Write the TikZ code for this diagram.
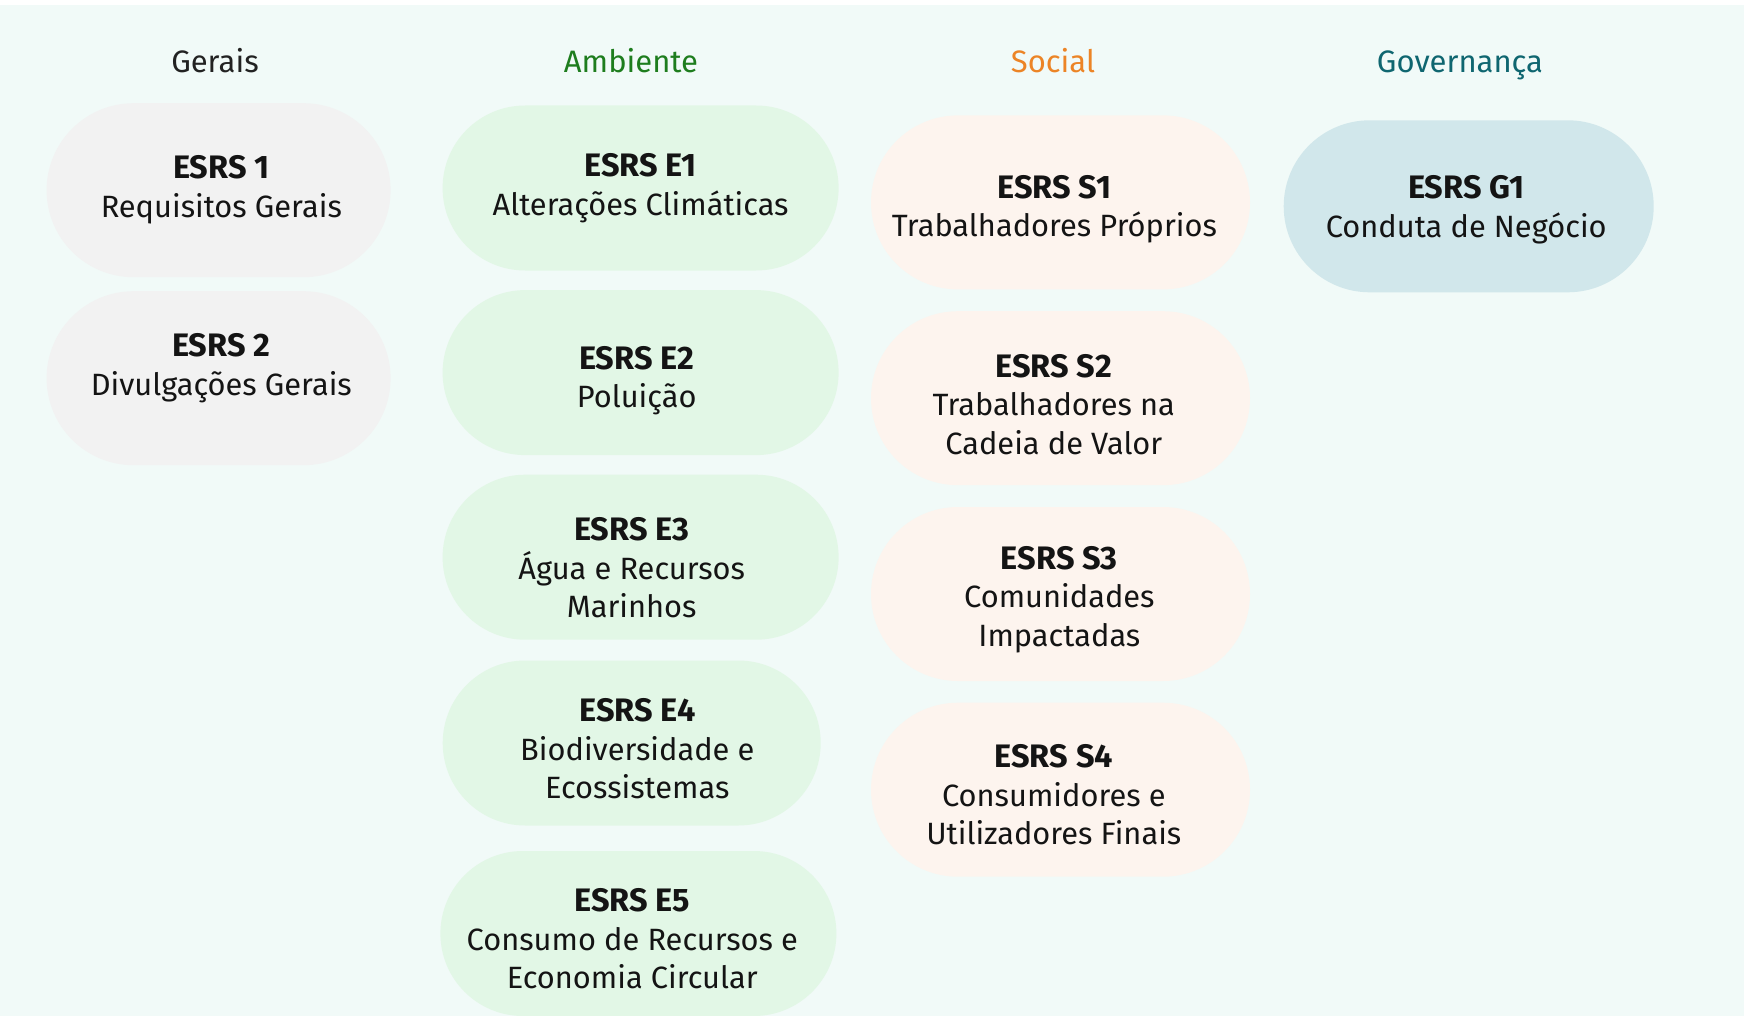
\documentclass[tikz,border=0pt]{standalone}
\usepackage{fontspec}
\setmainfont{Fira Sans}
\begin{document}
\begin{tikzpicture}[x=1pt,y=-1pt,
  pill/.style 2 args={rounded corners=#2/2, minimum width=#1, minimum height=#2,
    inner sep=0pt, draw=none},
  lbl/.style={align=center, inner sep=0pt, text=black!92,
    font=\fontsize{30.8}{38.5}\selectfont},
  gbox/.style={fill=gfill},
  ebox/.style={fill=efill},
  sbox/.style={fill=sfill},
  vbox/.style={fill=vfill},
  head/.style={font=\fontsize{31}{34}\selectfont, inner sep=0pt, anchor=base}]
\newcommand{\code}[1]{{\fontsize{32.5}{38.5}\selectfont\bfseries #1}}
\definecolor{bgmint}{HTML}{F1FAF8}
\definecolor{gfill}{HTML}{F2F2F2}
\definecolor{efill}{HTML}{E2F7E6}
\definecolor{sfill}{HTML}{FDF4EE}
\definecolor{vfill}{HTML}{D1E7EB}
\definecolor{ghead}{HTML}{222222}
\definecolor{ehead}{HTML}{1E7D1E}
\definecolor{shead}{HTML}{EC8426}
\definecolor{vhead}{HTML}{0F6670}
\useasboundingbox (0,0) rectangle (1744,1016);
\fill[white] (0,0) rectangle (1744,1016);
\fill[bgmint] (0,5) rectangle (1744,1016);
% headers
\node[head, text=ghead] (hg) at (215,73) {Gerais};
\node[head, text=ehead] (he) at (631,73) {Ambiente};
\node[head, text=shead] (hs) at (1053,73) {Social};
\node[head, text=vhead] (hv) at (1460,73) {Governança};
% Gerais
\node[pill={344pt}{174pt}, gbox] (g1) at (218.6,190.2) {};
\node[lbl] (tg1) at (221.3,189.6) {\code{ESRS 1}\\Requisitos Gerais};
\node[pill={344pt}{174pt}, gbox] (g2) at (218.6,378.2) {};
\node[lbl] (tg2) at (221.3,368.1) {\code{ESRS 2}\\Divulgações Gerais};
% Ambiente
\node[pill={396pt}{165pt}, ebox] (e1) at (640.6,188) {};
\node[lbl] (te1) at (640.6,188.0) {\code{ESRS E1}\\Alterações Climáticas};
\node[pill={396pt}{165pt}, ebox] (e2) at (640.6,372.6) {};
\node[lbl] (te2) at (636.7,380.9) {\code{ESRS E2}\\Poluição};
\node[pill={396pt}{165pt}, ebox] (e3) at (640.6,557.2) {};
\node[lbl] (te3) at (631.7,567.8) {\code{ESRS E3}\\Água e Recursos\\Marinhos};
\node[pill={378pt}{165pt}, ebox] (e4) at (631.7,743) {};
\node[lbl] (te4) at (637.3,749.1) {\code{ESRS E4}\\Biodiversidade e\\Ecossistemas};
\node[pill={396pt}{165pt}, ebox] (e5) at (638.4,933.5) {};
\node[lbl] (te5) at (632.3,938.7) {\code{ESRS E5}\\Consumo de Recursos e\\Economia Circular};
% Social
\node[pill={379pt}{174pt}, sbox] (s1) at (1060.5,202.4) {};
\node[lbl] (ts1) at (1054.4,209.1) {\code{ESRS S1}\\Trabalhadores Próprios};
\node[pill={379pt}{174pt}, sbox] (s2) at (1060.5,398.2) {};
\node[lbl] (ts2) at (1053.8,404.3) {\code{ESRS S2}\\Trabalhadores na\\Cadeia de Valor};
\node[pill={379pt}{174pt}, sbox] (s3) at (1060.5,594) {};
\node[lbl] (ts3) at (1059.4,599.5) {\code{ESRS S3}\\Comunidades\\Impactadas};
\node[pill={379pt}{174pt}, sbox] (s4) at (1060.5,789.7) {};
\node[lbl] (ts4) at (1053.8,794.7) {\code{ESRS S4}\\Consumidores e\\Utilizadores Finais};
% Governança
\node[pill={370pt}{172pt}, vbox] (v1) at (1468.7,206.3) {};
\node[lbl] (tv1) at (1466.2,209.6) {\code{ESRS G1}\\Conduta de Negócio};
\end{tikzpicture}
\end{document}
